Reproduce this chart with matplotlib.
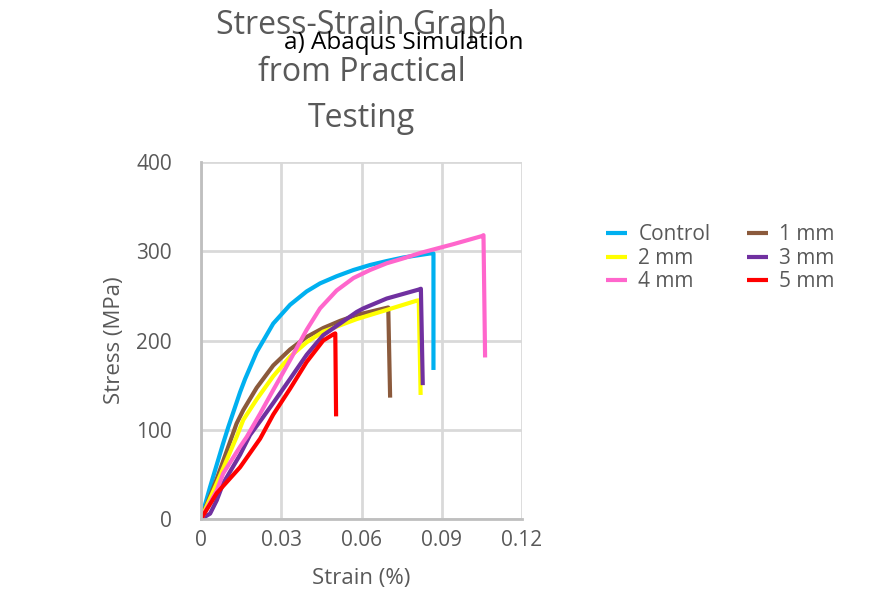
import matplotlib.pyplot as plt

plt.rcParams['font.family'] = ['Open Sans', 'DejaVu Sans']

# strain (%) / stress (MPa)
control_x = [0, 0.0034, 0.0083, 0.0102, 0.0146, 0.0165, 0.0208, 0.0270, 0.0333, 0.0395, 0.0445,
             0.0507, 0.0570, 0.0632, 0.0694, 0.0756, 0.0856, 0.0869, 0.0869]
control_y = [0, 36, 85, 103, 142, 157, 187, 219, 240, 255, 264,
             272, 279, 284.6, 289, 293, 297.5, 297.5, 167]

mm1_x = [0, 0.0059, 0.0133, 0.0158, 0.0208, 0.0270, 0.0333, 0.0395, 0.0457, 0.0520, 0.0582, 0.0700, 0.0707]
mm1_y = [0, 45, 107, 122, 147, 172, 190, 204, 214, 222, 228.6, 237, 136]

mm2_x = [0, 0.0059, 0.0133, 0.0158, 0.0208, 0.0270, 0.0333, 0.0395, 0.0457, 0.0582, 0.0713, 0.0806, 0.0814, 0.0821]
mm2_y = [0, 40, 92, 111, 134, 160, 182, 198, 210, 224, 236, 244.6, 245, 139]

mm3_x = [0, 0.0034, 0.0059, 0.0083, 0.0146, 0.0183, 0.0227, 0.0270, 0.0333, 0.0395, 0.0457, 0.0520,
         0.0582, 0.0607, 0.0694, 0.0813, 0.0822, 0.0829]
mm3_y = [0, 6, 21, 40, 72, 94, 112, 130, 157, 184, 206, 219,
         232, 236, 247, 257, 258, 150]

mm4_x = [0, 0.0059, 0.0083, 0.0146, 0.0171, 0.0221, 0.0270, 0.0333, 0.0395, 0.0445, 0.0507, 0.0570,
         0.0632, 0.0694, 0.0756, 0.0819, 0.0944, 0.1050, 0.1056, 0.1062]
mm4_y = [0, 32, 51, 81, 92, 118, 144.5, 178, 212, 236, 256, 270,
         279, 286.5, 292, 298, 308, 317, 318, 181]

mm5_x = [0, 0.0059, 0.0146, 0.0221, 0.0270, 0.0333, 0.0395, 0.0457, 0.0495, 0.0502, 0.0505]
mm5_y = [0, 29, 58, 90, 117, 146, 176, 200, 207, 208, 115]

series = [
    ('Control', control_x, control_y, '#00B0F0'),
    ('1 mm', mm1_x, mm1_y, '#8B5A3C'),
    ('2 mm', mm2_x, mm2_y, '#FFFF00'),
    ('3 mm', mm3_x, mm3_y, '#7030A0'),
    ('4 mm', mm4_x, mm4_y, '#FF66CC'),
    ('5 mm', mm5_x, mm5_y, '#FF0000'),
]

xticks = [0, 0.03, 0.06, 0.09, 0.12]
xticklabels = ['0', '0.03', '0.06', '0.09', '0.12']
yticks = [0, 100, 200, 300, 400]

fig = plt.figure(figsize=(8.69, 5.91), dpi=100)
ax = fig.add_axes([0.2313, 0.1218, 0.3694, 0.6041])

handles = {}
for name, xs, ys, col in series:
    h, = ax.plot(xs, ys, color=col, lw=3, solid_joinstyle='round', solid_capstyle='butt')
    handles[name] = h

ax.set_xlim(0, 0.12)
ax.set_ylim(0, 400)
ax.set_xticks(xticks)
ax.set_xticklabels(xticklabels)
ax.set_yticks(yticks)
ax.tick_params(length=0, labelsize=15, colors='#595959')
ax.tick_params(axis='x', pad=8)
ax.tick_params(axis='y', pad=21)
ax.grid(True, color='#D9D9D9', lw=2)
ax.set_axisbelow(True)
for s in ['top', 'right']:
    ax.spines[s].set_visible(False)
for s in ['left', 'bottom']:
    ax.spines[s].set_color('#BFBFBF')
    ax.spines[s].set_linewidth(2)

ax.set_xlabel('Strain (%)', fontsize=16, color='#595959', labelpad=12)
ax.set_ylabel('Stress (MPa)', fontsize=16, color='#595959', labelpad=8)

# title block (grey) with the overlapping black subtitle
fig.text(0.416, 0.957, 'Stress-Strain Graph', ha='center', va='center', fontsize=23, color='#595959')
fig.text(0.416, 0.878, 'from Practical', ha='center', va='center', fontsize=23, color='#595959')
fig.text(0.416, 0.799, 'Testing', ha='center', va='center', fontsize=23, color='#595959')
fig.text(0.465, 0.927, 'a) Abaqus Simulation', ha='center', va='center', fontsize=17.5, color='black')

order = ['Control', '2 mm', '4 mm', '1 mm', '3 mm', '5 mm']
leg = fig.legend([handles[n] for n in order], order, loc='upper left',
                 bbox_to_anchor=(0.6855, 0.638), ncol=2, frameon=False,
                 fontsize=15, handlelength=1.0, columnspacing=1.75,
                 labelspacing=0.12, handletextpad=0.55, borderpad=0)
for t in leg.get_texts():
    t.set_color('#595959')

fig.savefig('out.png', dpi=100)
